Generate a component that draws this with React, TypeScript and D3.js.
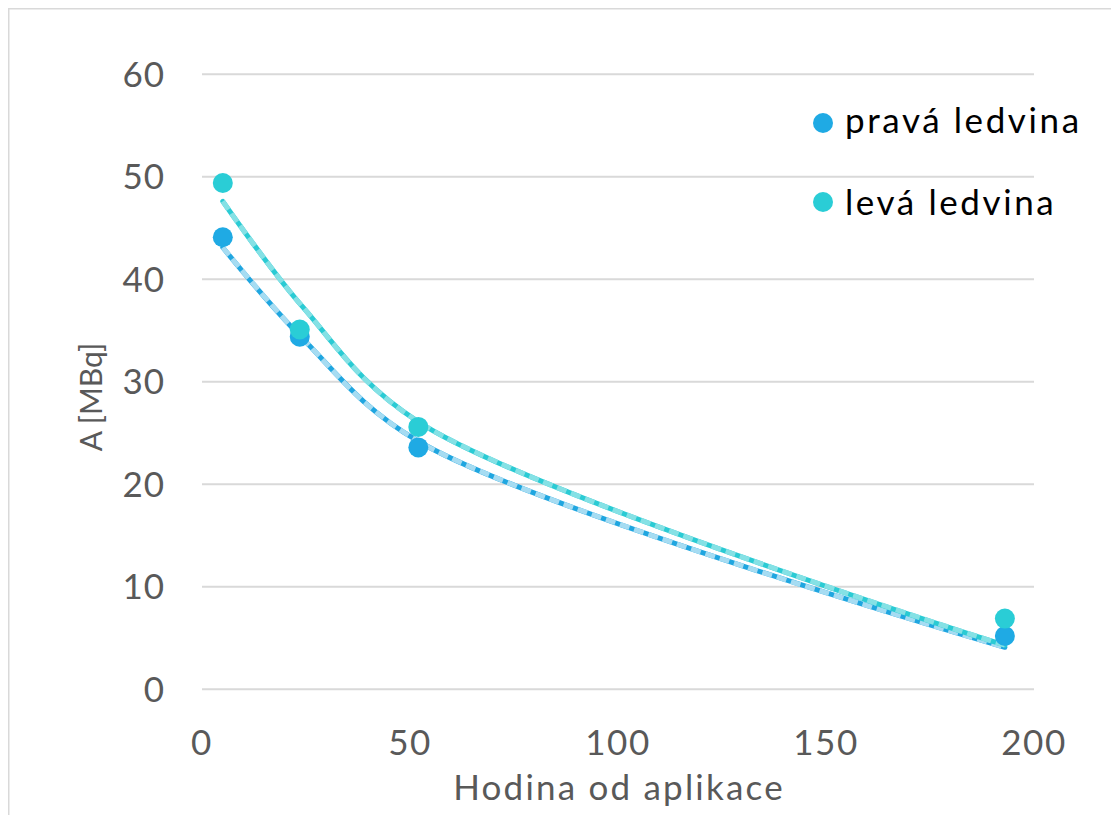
import React from "react";
import * as d3 from "d3";

const hours = [5, 23.5, 52, 193];
const pravaValues = [44.1, 34.4, 23.6, 5.2];
const levaValues = [49.4, 35.1, 25.6, 6.9];

const fitHours = [5, 24, 52, 193];
const pravaFit = [43.1, 34.3, 24.2, 4.1];
const levaFit = [47.6, 37.4, 26.1, 4.3];

const xTicks = [0, 50, 100, 150, 200];
const yTicks = [0, 10, 20, 30, 40, 50, 60];

const seriesNames = ["pravá ledvina", "levá ledvina"];
const xTitle = "Hodina od aplikace";
const yTitle = "A [MBq]";

const W = 1103;
const H = 807;
const FONT = "Lato, 'Open Sans', sans-serif";

export default function App() {
  const x = d3.scaleLinear().domain([0, 200]).range([194, 1026]);
  const y = d3.scaleLinear().domain([0, 60]).range([681.3, 66.3]);

  const line = d3
    .line<number>()
    .x((_, i) => x(fitHours[i]))
    .y((d) => y(d))
    .curve(d3.curveCatmullRom.alpha(0.5));

  const series = [
    { name: seriesNames[0], vals: pravaValues, fit: pravaFit, color: "#1FAAE4", base: "#1FA6E0", light: "#A6DCF2" },
    { name: seriesNames[1], vals: levaValues, fit: levaFit, color: "#2ACDD6", base: "#2ACBD4", light: "#85E1E5" },
  ];

  return (
    <svg width={W} height={H} style={{ display: "block" }} fontFamily={FONT}>
      <rect x={0} y={0} width={W} height={H} fill="#fff" />
      <line x1={0} y1={0.75} x2={W} y2={0.75} stroke="#d9d9d9" strokeWidth={1.5} />
      <line x1={0.75} y1={0} x2={0.75} y2={H} stroke="#d9d9d9" strokeWidth={1.5} />

      {yTicks.map((t) => (
        <g key={"y" + t}>
          <line x1={x(0)} x2={x(200)} y1={y(t)} y2={y(t)} stroke="#d9d9d9" strokeWidth={2} />
          <text x={157} y={y(t) + 12.5} textAnchor="end" fontSize={35} fill="#595959" letterSpacing={1}>
            {t}
          </text>
        </g>
      ))}
      {xTicks.map((t) => (
        <text key={"x" + t} x={x(t)} y={747} textAnchor="middle" fontSize={35} fill="#595959" letterSpacing={1.5}>
          {t}
        </text>
      ))}
      <text x={611} y={792} textAnchor="middle" fontSize={35} fill="#595959" letterSpacing={2.2}>
        {xTitle}
      </text>
      <text
        transform={`translate(94, ${389}) rotate(-90)`}
        textAnchor="middle"
        fontSize={30}
        fill="#595959"
      >
        {yTitle}
      </text>

      {series.map((s) => (
        <g key={"l" + s.name}>
          <path d={line(s.fit) || ""} fill="none" stroke={s.base} strokeWidth={5} strokeLinecap="round" />
          <path d={line(s.fit) || ""} fill="none" stroke={s.light} strokeWidth={5} strokeDasharray="10 5" />
        </g>
      ))}
      {series.map((s) => (
        <g key={"p" + s.name}>
          {s.vals.map((v, i) => (
            <circle key={i} cx={x(hours[i])} cy={y(v)} r={10} fill={s.color} />
          ))}
        </g>
      ))}

      {series.map((s, i) => (
        <g key={"lg" + s.name}>
          <circle cx={815} cy={115 + i * 79} r={10} fill={s.color} />
          <text x={837} y={125 + i * 82} fontSize={35} fill="#000" letterSpacing={2.6}>
            {s.name}
          </text>
        </g>
      ))}
    </svg>
  );
}
